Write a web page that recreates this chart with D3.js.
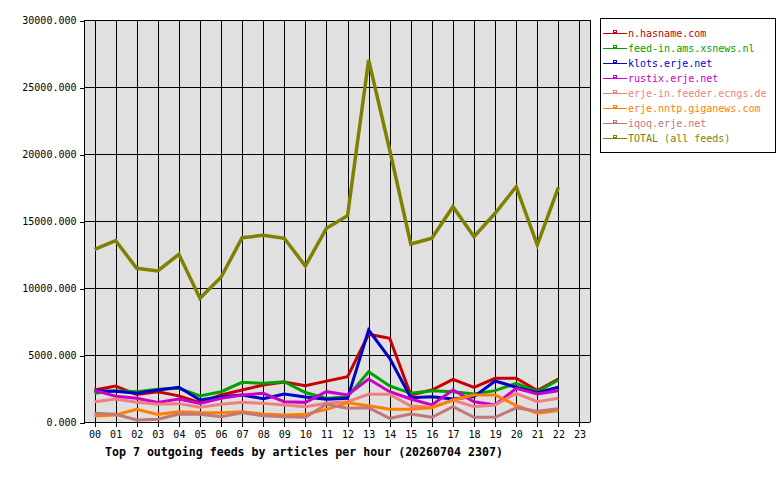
<!DOCTYPE html>
<html><head><meta charset="utf-8">
<script src="https://cdn.jsdelivr.net/npm/d3@7/dist/d3.min.js"></script>
<style>body{margin:0;background:#fff}svg{display:block}</style>
</head><body>
<svg id="c" width="780" height="480"></svg>
<script>
const hours = ["00","01","02","03","04","05","06","07","08","09","10","11","12","13","14","15","16","17","18","19","20","21","22","23"];
const yTicks = [0,5000,10000,15000,20000,25000,30000];
const seriesNames = ["n.hasname.com","feed-in.ams.xsnews.nl","klots.erje.net","rustix.erje.net","erje-in.feeder.ecngs.de","erje.nntp.giganews.com","iqoq.erje.net","TOTAL (all feeds)"];
const seriesColors = ["#c80000","#00a000","#0000c8","#c800c8","#f08080","#ff8000","#c07878","#808000"];
const hasname  = [2390,2690,2050,2250,1950,1450,2015,2390,2760,2985,2700,3050,3380,6545,6245,2015,2390,3185,2590,3260,3260,2340,3210];
const xsnews   = [2140,2340,2260,2440,2510,1950,2260,2960,2885,3010,2200,1750,1890,3755,2690,2140,2340,2260,2090,2340,2885,2260,3135];
const klots    = [2340,2290,2140,2390,2590,1640,1890,2015,1740,2090,1870,1700,1765,6865,4750,1815,1890,1715,1890,3060,2590,2190,2590];
const rustix   = [2360,1920,1765,1465,1715,1390,1765,2015,2140,1515,1465,2265,2015,3210,2260,1715,1270,2390,1515,1270,2515,2090,2340];
const ecngs    = [1515,1715,1480,1320,1370,1095,1320,1465,1390,1270,1145,1400,1515,2065,2065,1195,1095,1640,1145,1270,2140,1515,1765];
const giganews = [450,520,945,570,770,700,695,770,600,520,570,945,1440,1220,945,945,1070,1640,2015,2015,1230,650,860];
const iqoq     = [650,570,150,200,600,570,400,695,470,400,350,1320,1020,1070,275,600,350,1145,350,350,1060,800,985];
const total    = [12890,13530,11470,11270,12515,9230,10800,13755,13930,13710,11640,14455,15400,27015,20300,13285,13710,16070,13830,15575,17560,13210,17515];
const seriesValues = [hasname,xsnews,klots,rustix,ecngs,giganews,iqoq,total];
const title = "Top 7 outgoing feeds by articles per hour (20260704 2307)";

const svg = d3.select("#c");
const L = 84, R = 590, T = 20, B = 422;
const x = d3.scaleLinear().domain([-0.5, 23.5]).range([L, R]);
const y = d3.scaleLinear().domain([0, 30000]).range([B, T]);
const font = "'DejaVu Sans Mono', monospace";

svg.append("rect").attr("x", L).attr("y", T).attr("width", R - L).attr("height", B - T).attr("fill", "#e0e0e0");

const grid = svg.append("g").attr("shape-rendering", "crispEdges").attr("stroke", "#000").attr("stroke-width", 1);
hours.forEach((h, i) => {
  grid.append("line").attr("x1", Math.round(x(i)) + 0.5).attr("x2", Math.round(x(i)) + 0.5).attr("y1", T).attr("y2", B);
});
yTicks.forEach(v => {
  grid.append("line").attr("x1", L).attr("x2", R).attr("y1", Math.round(y(v)) + 0.5).attr("y2", Math.round(y(v)) + 0.5);
});
grid.append("line").attr("x1", L + 0.5).attr("x2", L + 0.5).attr("y1", T).attr("y2", B);
grid.append("line").attr("x1", R + 0.5).attr("x2", R + 0.5).attr("y1", T).attr("y2", B);

// y axis
const yAxis = d3.axisLeft(y).tickValues(yTicks).tickFormat(d => d3.format(".3f")(d)).tickSize(5).tickPadding(3);
const gy = svg.append("g").attr("transform", `translate(${L + 0.5},0)`).call(yAxis);
gy.select(".domain").remove();
gy.selectAll(".tick line").attr("shape-rendering", "crispEdges").attr("transform", "translate(0,0.5)");
gy.selectAll("text").attr("font-family", font).attr("font-size", "10px").attr("fill", "#000");

// x axis
const xAxis = d3.axisBottom(x).tickValues(d3.range(24)).tickFormat(i => hours[i]).tickSize(4).tickPadding(4);
const gx = svg.append("g").attr("transform", `translate(0,${B + 0.5})`).call(xAxis);
gx.select(".domain").attr("d", `M${L},0H${R}`).attr("shape-rendering", "crispEdges");
gx.selectAll(".tick line").attr("shape-rendering", "crispEdges");
gx.selectAll("text").attr("font-family", font).attr("font-size", "10px").attr("fill", "#000");

// lines
const line = d3.line().x((d, i) => x(i)).y(d => y(d));
seriesValues.forEach((vals, k) => {
  svg.append("path").attr("d", line(vals)).attr("fill", "none")
    .attr("stroke", seriesColors[k]).attr("stroke-width", k === 7 ? 3.5 : 3)
    .attr("stroke-linejoin", "miter");
});

// title
svg.append("text").attr("x", 105).attr("y", 456).attr("font-family", font)
  .attr("font-size", "11.6px").attr("font-weight", "bold").attr("fill", "#000").text(title);

// legend
const lg = svg.append("g");
lg.append("rect").attr("x", 600.5).attr("y", 18.5).attr("width", 175).attr("height", 134)
  .attr("fill", "#fff").attr("stroke", "#000").attr("shape-rendering", "crispEdges");
seriesNames.forEach((n, k) => {
  const yy = 33 + k * 15;
  lg.append("line").attr("x1", 603).attr("x2", 627).attr("y1", yy + 0.5).attr("y2", yy + 0.5)
    .attr("stroke", seriesColors[k]).attr("shape-rendering", "crispEdges");
  lg.append("rect").attr("x", 613.5).attr("y", yy - 2.5).attr("width", 3).attr("height", 2)
    .attr("fill", "none").attr("stroke", seriesColors[k]).attr("stroke-width", 1).attr("shape-rendering", "crispEdges");
  lg.append("text").attr("x", 628).attr("y", yy + 4).attr("font-family", font).attr("font-size", "10px")
    .attr("fill", seriesColors[k]).text(n);
});
</script>
</body></html>
